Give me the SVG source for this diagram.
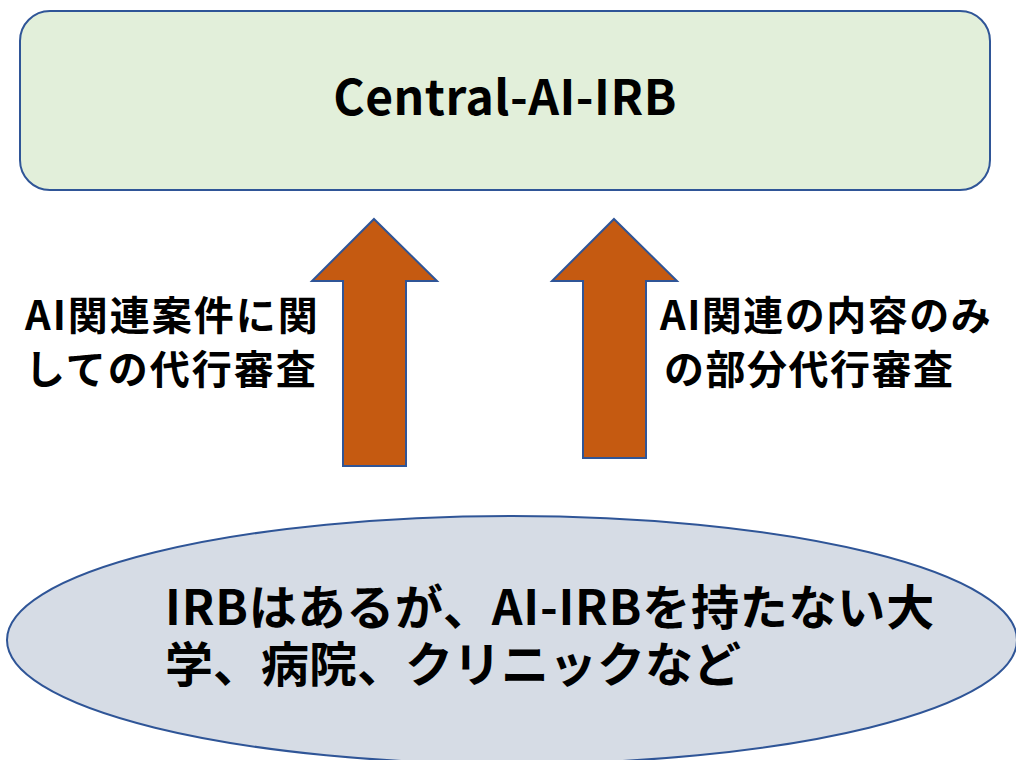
<svg xmlns="http://www.w3.org/2000/svg" width="1016" height="760" viewBox="0 0 1016 760">
<style>
.t{font-family:"Noto Sans CJK JP","Noto Sans",sans-serif;font-weight:bold;fill:#000}
.arrow{fill:#C55A11;stroke:#2F5597;stroke-width:2;stroke-linejoin:miter}
</style>
<rect width="1016" height="760" fill="#fff"/>
<g id="central">
<rect x="20" y="11" width="970" height="179" rx="30" ry="30" fill="#E2EFDA" stroke="#2F5597" stroke-width="2"/>
<text class="t" x="505" y="115" font-size="48" letter-spacing="0.5" text-anchor="middle">Central-AI-IRB</text>
</g>
<g id="connectors">
<polygon class="arrow" points="374,219 437,281 406,281 406,466 343,466 343,281 312,281"/>
<polygon class="arrow" points="614,219 677,281 646,281 646,458 583,458 583,281 552,281"/>
</g>
<g id="label-left">
<text class="t" font-size="40" letter-spacing="2"><tspan x="25" y="330">AI関連案件に関</tspan><tspan x="25" y="384">しての代行審査</tspan></text>
</g>
<g id="label-right">
<text class="t" font-size="40" letter-spacing="1.5"><tspan x="660" y="330">AI関連の内容のみ</tspan><tspan x="664" y="384">の部分代行審査</tspan></text>
</g>
<g id="institutions">
<ellipse cx="512" cy="640" rx="505" ry="124" fill="#D6DCE5" stroke="#2F5597" stroke-width="2"/>
<text class="t" font-size="48"><tspan x="165" y="625" letter-spacing="0.8">IRBはあるが、AI-IRBを持たない大</tspan><tspan x="165" y="682" letter-spacing="0">学、病院、クリニックなど</tspan></text>
</g>
</svg>
